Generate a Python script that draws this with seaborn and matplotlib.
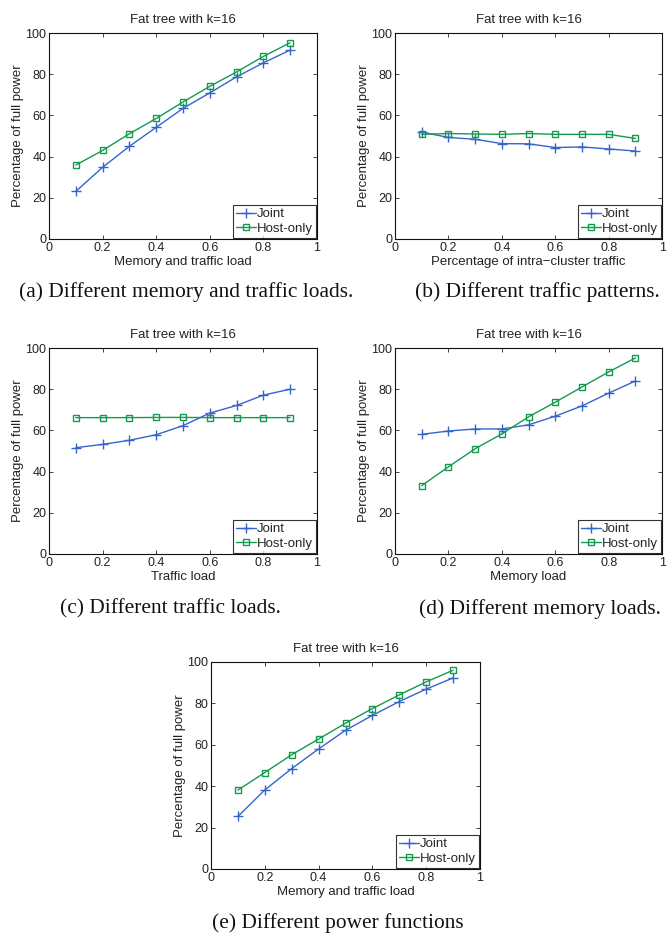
import numpy as np
import pandas as pd
import matplotlib
matplotlib.use("Agg")
import matplotlib.pyplot as plt
import seaborn as sns

# x values shared by all panels
load = [0.1, 0.2, 0.3, 0.4, 0.5, 0.6, 0.7, 0.8, 0.9]

# (a) memory and traffic load
a_joint = [23.1, 34.8, 45.0, 54.2, 63.4, 70.9, 78.7, 85.5, 91.7]
a_host = [35.9, 43.0, 51.1, 58.5, 66.5, 74.1, 81.1, 88.6, 95.3]

# (b) intra-cluster traffic
b_joint = [51.9, 49.3, 48.4, 46.3, 46.2, 44.4, 44.7, 43.7, 42.7]
b_host = [50.8, 51.2, 51.0, 50.8, 51.2, 50.8, 50.8, 50.8, 48.8]

# (c) traffic load
c_joint = [51.6, 53.2, 55.2, 57.9, 62.3, 68.4, 72.1, 77.1, 80.0]
c_host = [66.2, 66.2, 66.2, 66.3, 66.3, 66.2, 66.2, 66.2, 66.2]

# (d) memory load
d_joint = [58.1, 59.7, 60.7, 60.7, 62.7, 66.9, 71.9, 78.1, 84.0]
d_host = [33.2, 42.3, 51.1, 58.3, 66.6, 73.7, 81.1, 88.4, 95.2]

# (e) power functions
e_joint = [25.4, 38.2, 48.5, 58.0, 67.0, 74.2, 80.9, 86.9, 92.3]
e_host = [38.1, 46.6, 55.2, 62.8, 70.4, 77.5, 84.1, 90.4, 96.0]

series_names = ["Joint", "Host-only"]
xlabels = ["Memory and traffic load", "Percentage of intra\u2212cluster traffic",
           "Traffic load", "Memory load", "Memory and traffic load"]
captions = ["(a) Different memory and traffic loads.",
            "(b) Different traffic patterns.",
            "(c) Different traffic loads.",
            "(d) Different memory loads.",
            "(e) Different power functions"]
title = "Fat tree with k=16"

sns.set_theme(style="ticks")
plt.rcParams["font.family"] = ["Liberation Sans", "DejaVu Sans"]
plt.rcParams["axes.unicode_minus"] = True

blue = "#3565cc"
green = "#149a4e"

fig = plt.figure(figsize=(6.68, 9.35), dpi=100)

# axes rectangles [left, bottom, width, height] in figure fractions
rects = [
    [0.0734, 0.7444, 0.401, 0.2203],
    [0.5913, 0.7444, 0.400, 0.2203],
    [0.0734, 0.4075, 0.401, 0.2203],
    [0.5913, 0.4075, 0.400, 0.2203],
    [0.3159, 0.0706, 0.4027, 0.2214],
]
cap_pos = [(0.278, 0.6877), (0.805, 0.6877), (0.255, 0.3487),
           (0.808, 0.3487), (0.506, 0.0128)]

data = [(a_joint, a_host), (b_joint, b_host), (c_joint, c_host),
        (d_joint, d_host), (e_joint, e_host)]

for i, (joint, host) in enumerate(data):
    ax = fig.add_axes(rects[i])
    sns.lineplot(x=load, y=joint, ax=ax, color=blue, marker="+", lw=1.0,
                 markersize=7, markeredgecolor=blue, markeredgewidth=1.0,
                 label=series_names[0])
    sns.lineplot(x=load, y=host, ax=ax, color=green, marker="s", lw=1.0,
                 markersize=5, markeredgecolor=green, markerfacecolor="none",
                 markeredgewidth=1.0, label=series_names[1])
    ax.set_xlim(0, 1)
    ax.set_ylim(0, 100)
    ax.set_xticks([0, 0.2, 0.4, 0.6, 0.8, 1])
    ax.set_xticklabels(["0", "0.2", "0.4", "0.6", "0.8", "1"])
    ax.set_yticks([0, 20, 40, 60, 80, 100])
    ax.tick_params(direction="in", length=3, width=0.6, labelsize=9,
                   top=True, right=True, pad=2, colors="#222222")
    for s in ax.spines.values():
        s.set_linewidth(0.8)
        s.set_color("#111111")
    ax.set_title(title, fontsize=9.5, pad=7, color="#222222")
    ax.set_xlabel(xlabels[i], fontsize=9.5, labelpad=1.5, color="#222222")
    ax.set_ylabel("Percentage of full power", fontsize=9.5, labelpad=1,
                  color="#222222")
    leg = ax.legend(loc="lower right", fontsize=9.5, frameon=True, fancybox=False,
                    borderpad=0.2, handlelength=1.5, handletextpad=0.1,
                    labelspacing=0.2, borderaxespad=0.1, edgecolor="black")
    leg.get_frame().set_linewidth(0.8)
    fig.text(cap_pos[i][0], cap_pos[i][1], captions[i], ha="center",
             va="center", fontsize=15.4, family="Liberation Serif", color="#111111")

fig.savefig("out.png", dpi=100)
